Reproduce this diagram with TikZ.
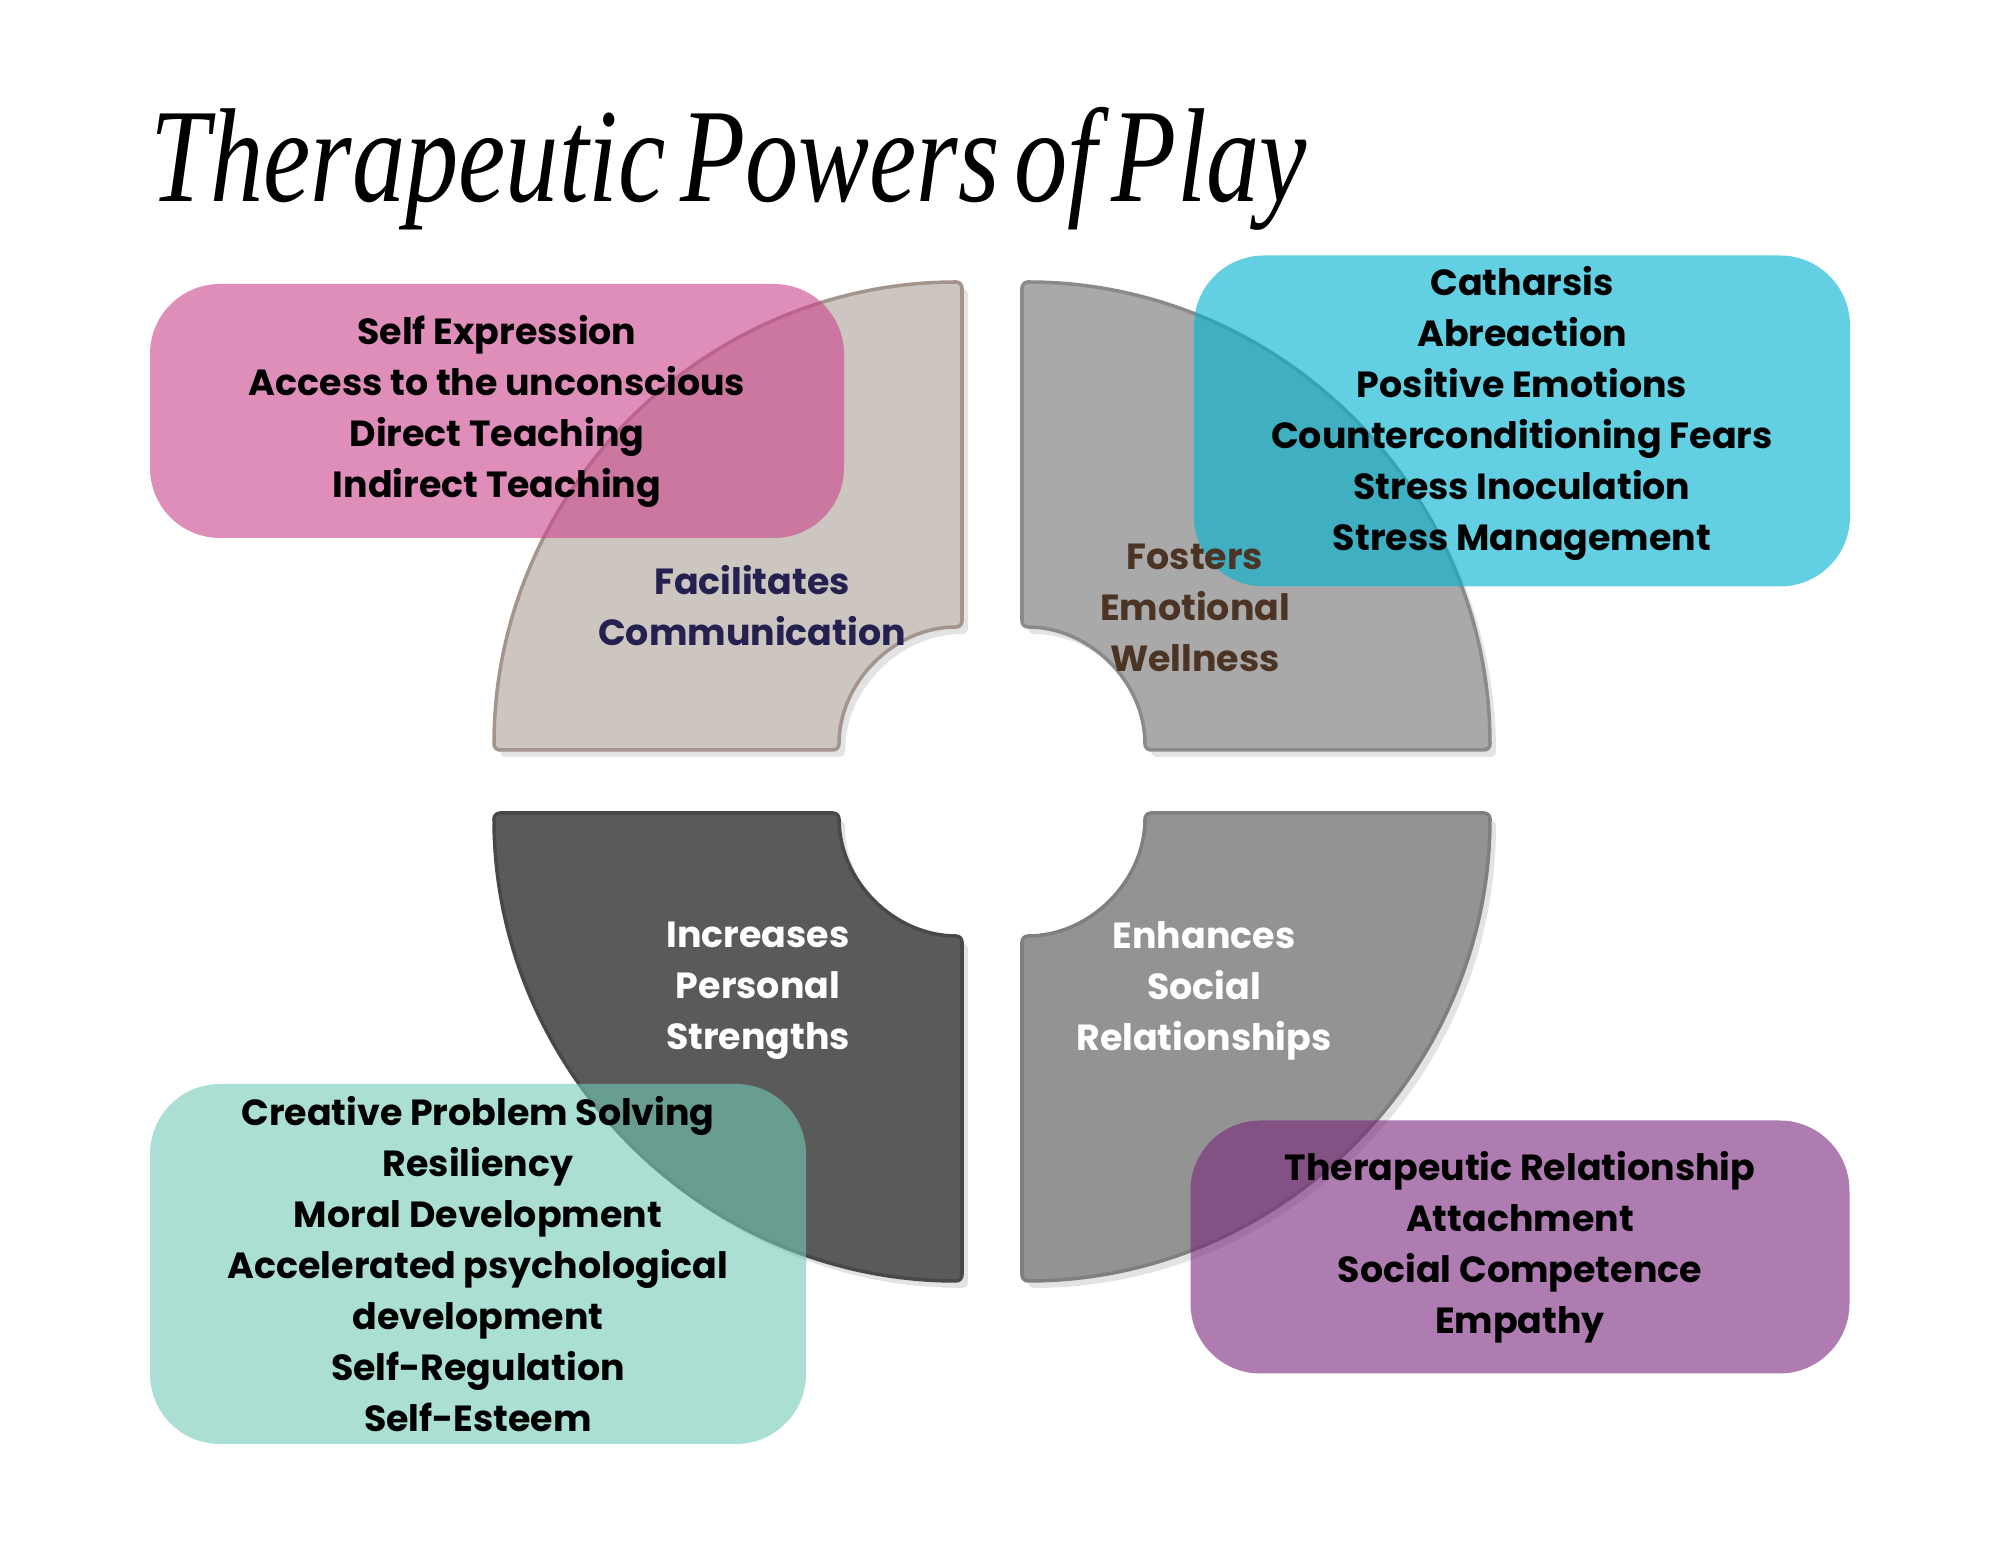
\documentclass[tikz,border=0pt]{standalone}
\usepackage{fontspec}
\usepackage{graphicx}
\usepackage{xcolor}
\usepackage{tikz}
\usetikzlibrary{positioning, shadows}
\newfontfamily\popp{Poppins}
\newfontfamily\titlefont{Liberation Serif}[WordSpace=0.55]
\definecolor{qtl}{HTML}{CCC5C0}
\definecolor{qtlline}{HTML}{A3958C}
\definecolor{qtr}{HTML}{A9A9A9}
\definecolor{qtrline}{HTML}{8C8A88}
\definecolor{qbl}{HTML}{5A5A5A}
\definecolor{qblline}{HTML}{484848}
\definecolor{qbr}{HTML}{939393}
\definecolor{qbrline}{HTML}{7F7F7F}
\definecolor{powpink}{HTML}{CB438C}
\definecolor{powcyan}{HTML}{02B3D2}
\definecolor{powteal}{HTML}{75CAB7}
\definecolor{powpurple}{HTML}{7B267D}
\definecolor{navy}{HTML}{24204F}
\definecolor{earth}{HTML}{4B3424}
\tikzset{
  quad/.style={line width=1pt, rounded corners=0.6mm, drop shadow={opacity=0.22, shadow xshift=0.6mm, shadow yshift=-0.7mm}},
  listbox/.style={rectangle, rounded corners=7mm, fill opacity=0.6, text opacity=1, align=center, font=\popp\bfseries\fontsize{10.35}{14.5}\selectfont, inner sep=0pt},
  qlabel/.style={align=center, font=\popp\bfseries\fontsize{10.35}{14.5}\selectfont, inner sep=0pt},
}

\begin{document}
\begin{tikzpicture}[x=0.1mm, y=0.1mm]
\fill[white] (0,0) rectangle (2000,1545);
\node[inner sep=0pt] (title) at (729,1376) {\resizebox*{115.6mm}{12.3mm}{\titlefont\itshape Therapeutic Powers of Play}};
% four quarter rings round the centre
\draw[quad, fill=qtl, draw=qtlline] (494,795) arc[start angle=180, end angle=90, radius=468] -- (962,918) arc[start angle=90, end angle=180, radius=123] -- cycle;
\draw[quad, fill=qtr, draw=qtrline] (1022,1263) arc[start angle=90, end angle=0, radius=468] -- (1145,795) arc[start angle=0, end angle=90, radius=123] -- cycle;
\draw[quad, fill=qbl, draw=qblline] (494,732) arc[start angle=180, end angle=270, radius=468] -- (962,609) arc[start angle=270, end angle=180, radius=123] -- cycle;
\draw[quad, fill=qbr, draw=qbrline] (1490,732) arc[start angle=0, end angle=-90, radius=468] -- (1022,609) arc[start angle=-90, end angle=0, radius=123] -- cycle;
% lists
\node[listbox, fill=powpink, minimum width=69.4mm, minimum height=25.4mm] (comm) at (497,1134) {Self Expression\\Access to the unconscious\\Direct Teaching\\Indirect Teaching};
\node[listbox, fill=powcyan, fill opacity=0.62, minimum width=65.6mm, minimum height=33.1mm] (emo) at (1522,1124) {Catharsis\\Abreaction\\Positive Emotions\\Counterconditioning Fears\\Stress Inoculation\\Stress Management\rule[-2.55mm]{0pt}{2.55mm}};
\node[listbox, fill=powteal, minimum width=65.6mm, minimum height=36mm] (strength) at (478,281) {Creative Problem Solving\\Resiliency\\Moral Development\\Accelerated psychological\\development\\Self-Regulation\\Self-Esteem};
\node[listbox, fill=powpurple, minimum width=65.9mm, minimum height=25.3mm] (social) at (1520,298) {Therapeutic Relationship\\Attachment\\Social Competence\\Empathy};
% quadrant labels
\node[qlabel, text=navy] (lcomm) at (752,939) {Facilitates\\Communication};
\node[qlabel, text=earth] (lemo) at (1195,937) {Fosters\\Emotional\\Wellness};
\node[qlabel, text=white] (lstrength) at (758,554) {Increases\\Personal\\Strengths};
\node[qlabel, text=white] (lsocial) at (1204,554) {Enhances\\Social\\Relationships};
\end{tikzpicture}
\end{document}
